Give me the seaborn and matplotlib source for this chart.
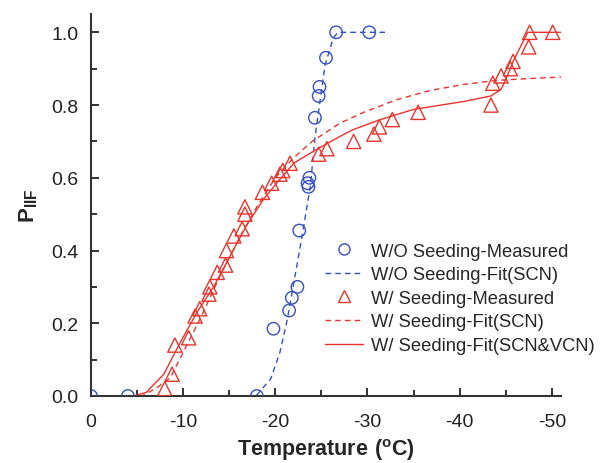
import matplotlib
matplotlib.use('Agg')
import matplotlib.pyplot as plt
from matplotlib.lines import Line2D
from matplotlib.ticker import MultipleLocator, FormatStrFormatter
import numpy as np
import pandas as pd
import seaborn as sns

# W/O seeding - measured
wo_temp = [0, -4, -18, -19.8, -21.5, -21.8, -22.4, -22.6, -23.5, -23.6, -23.7, -24.3, -24.7, -24.8, -25.5, -26.6, -30.2]
wo_p = [0, 0, 0, 0.185, 0.235, 0.27, 0.30, 0.455, 0.585, 0.575, 0.60, 0.765, 0.825, 0.85, 0.93, 1.0, 1.0]

# W/O seeding - fit (SCN)
wo_fit_temp = [0, -17, -18, -19.5, -20.5, -21.3, -22.0, -22.7, -23.8, -24.3, -24.9, -25.4, -26.3, -26.8, -32]
wo_fit_p = [0, 0, 0.003, 0.047, 0.12, 0.21, 0.31, 0.41, 0.575, 0.71, 0.82, 0.91, 0.985, 1.0, 1.0]

# W/ seeding - measured
w_temp = [-8.0, -8.8, -9.1, -10.6, -11.3, -11.8, -12.8, -12.9, -13.7, -14.6, -14.7, -15.5, -16.4,
          -16.7, -16.7, -18.6, -19.6, -20.5, -20.8, -21.6, -24.7, -25.6, -28.5, -30.7, -31.3, -32.7,
          -35.5, -43.4, -43.6, -44.5, -45.5, -45.8, -47.5, -47.6, -50.1]
w_p = [0.02, 0.06, 0.14, 0.16, 0.22, 0.24, 0.28, 0.30, 0.34, 0.36, 0.40, 0.44, 0.46,
       0.50, 0.52, 0.56, 0.585, 0.61, 0.62, 0.64, 0.665, 0.68, 0.70, 0.72, 0.74, 0.76,
       0.78, 0.80, 0.86, 0.88, 0.90, 0.92, 0.96, 1.0, 1.0]

# W/ seeding - fit (SCN)
scn_temp = [0, -5.5, -7, -8.6, -10, -12, -14, -16, -18, -20, -22, -24, -27, -29.6, -33.2, -36.8, -40.5, -44.1, -47.7, -51]
scn_p = [0, 0, 0.02, 0.05, 0.12, 0.22, 0.33, 0.43, 0.52, 0.60, 0.655, 0.70, 0.75, 0.78, 0.815, 0.84, 0.857, 0.868, 0.873, 0.877]

# W/ seeding - fit (SCN&VCN)
vcn_temp = [0, -4.6, -6, -7.9, -9.7, -11.5, -13.3, -15.1, -16.9, -18.7, -20.2, -22, -24.2, -27.1, -28.5,
            -31.4, -35, -40.5, -43.4, -44.5, -45, -45.9, -47.4, -51]
vcn_p = [0, 0, 0.01, 0.06, 0.148, 0.23, 0.30, 0.385, 0.47, 0.54, 0.587, 0.64, 0.674, 0.715, 0.733,
         0.76, 0.788, 0.81, 0.825, 0.843, 0.87, 0.925, 1.0, 1.0]

blue = '#3550c0'
red = '#e8342c'

sns.set_style('ticks')
plt.rcParams['font.family'] = ['Liberation Sans', 'DejaVu Sans']
plt.rcParams['mathtext.fontset'] = 'custom'
plt.rcParams['mathtext.bf'] = 'Liberation Sans:bold'
plt.rcParams['mathtext.rm'] = 'Liberation Sans'

fig = plt.figure(figsize=(6.01, 4.64), dpi=100)
ax = fig.add_axes([0.1514, 0.1444, 0.782, 0.823])

sns.lineplot(x=wo_fit_temp, y=wo_fit_p, ax=ax, color=blue, linestyle=(0, (4, 3)), linewidth=1, sort=False, estimator=None)
sns.lineplot(x=scn_temp, y=scn_p, ax=ax, color=red, linestyle=(0, (4, 3)), linewidth=1, sort=False, estimator=None)
sns.lineplot(x=vcn_temp, y=vcn_p, ax=ax, color=red, linewidth=1, sort=False, estimator=None)
sns.scatterplot(x=wo_temp, y=wo_p, ax=ax, marker='o', s=80, facecolors='none', edgecolors=blue, linewidth=1, zorder=3)
sns.scatterplot(x=w_temp, y=w_p, ax=ax, marker='^', s=105, facecolors='none', edgecolors=red, linewidth=1, zorder=3)

ax.set_xlim(0, -51)
ax.set_ylim(0, 1.05)
ax.xaxis.set_major_locator(MultipleLocator(10))
ax.xaxis.set_minor_locator(MultipleLocator(5))
ax.yaxis.set_major_locator(MultipleLocator(0.2))
ax.yaxis.set_minor_locator(MultipleLocator(0.1))
ax.yaxis.set_major_formatter(FormatStrFormatter('%.1f'))
ax.xaxis.set_major_formatter(FormatStrFormatter('%d'))
ax.tick_params(which='major', direction='in', length=6, width=1.3, labelsize=14, colors='#222222', pad=12)
ax.tick_params(which='minor', direction='in', length=4, width=1.3, colors='#222222')
ax.tick_params(axis='y', which='major', pad=9)
for side in ['top', 'right']:
    ax.spines[side].set_visible(False)
for side in ['left', 'bottom']:
    ax.spines[side].set_linewidth(1.5)
    ax.spines[side].set_color('#333333')

ax.set_xlabel('$\\mathbf{Temperature\\ (^oC)}$', fontsize=15.5, labelpad=5)
ax.set_ylabel('$\\mathbf{P_{IIF}}$', fontsize=16, labelpad=8)

handles = [
    Line2D([], [], marker='o', linestyle='none', markerfacecolor='none', markeredgecolor=blue, markersize=8),
    Line2D([], [], color=blue, linestyle=(0, (4, 3)), linewidth=1),
    Line2D([], [], marker='^', linestyle='none', markerfacecolor='none', markeredgecolor=red, markersize=9),
    Line2D([], [], color=red, linestyle=(0, (4, 3)), linewidth=1),
    Line2D([], [], color=red, linewidth=1),
]
labels = ['W/O Seeding-Measured', 'W/O Seeding-Fit(SCN)', 'W/ Seeding-Measured',
          'W/ Seeding-Fit(SCN)', 'W/ Seeding-Fit(SCN&VCN)']
ax.legend(handles, labels, loc='lower left', bbox_to_anchor=(0.497, 0.11), frameon=False,
          fontsize=13.2, handlelength=2.1, handletextpad=0.45, labelspacing=0.36, borderpad=0,
          borderaxespad=0)

fig.savefig('out.png', dpi=100)
